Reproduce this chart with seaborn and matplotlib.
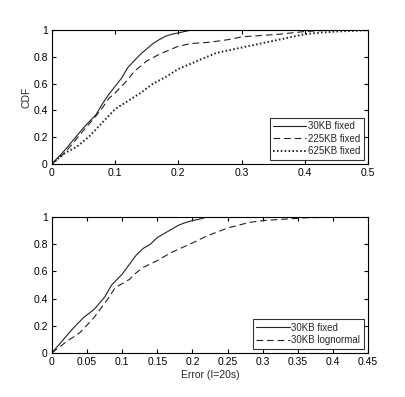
import pandas as pd
import matplotlib
matplotlib.use("Agg")
import matplotlib.pyplot as plt
import seaborn as sns

# top panel: CDF of error for fixed transfer sizes
top_x_30 = [0, 0.02, 0.05, 0.07, 0.08, 0.09, 0.10, 0.11, 0.12, 0.13, 0.14, 0.15,
            0.16, 0.17, 0.18, 0.19, 0.20, 0.21, 0.22, 0.50]
top_y_30 = [0, 0.10, 0.27, 0.37, 0.45, 0.52, 0.58, 0.64, 0.72, 0.77, 0.82, 0.86,
            0.90, 0.93, 0.955, 0.97, 0.98, 0.99, 1.0, 1.0]
top_x_225 = [0, 0.02, 0.05, 0.07, 0.08, 0.09, 0.10, 0.11, 0.12, 0.13, 0.14, 0.15,
             0.17, 0.19, 0.20, 0.22, 0.25, 0.28, 0.30, 0.33, 0.36, 0.38, 0.40,
             0.42, 0.44, 0.50]
top_y_225 = [0, 0.08, 0.25, 0.36, 0.42, 0.49, 0.53, 0.58, 0.63, 0.69, 0.73, 0.77,
             0.82, 0.86, 0.88, 0.90, 0.91, 0.93, 0.95, 0.96, 0.97, 0.98, 0.99,
             0.995, 1.0, 1.0]
top_x_625 = [0, 0.02, 0.04, 0.06, 0.08, 0.10, 0.12, 0.14, 0.16, 0.18, 0.20, 0.22,
             0.24, 0.26, 0.28, 0.30, 0.32, 0.34, 0.36, 0.38, 0.40, 0.42, 0.45, 0.50]
top_y_625 = [0, 0.08, 0.13, 0.21, 0.31, 0.41, 0.47, 0.53, 0.60, 0.65, 0.71, 0.75,
             0.79, 0.83, 0.85, 0.87, 0.89, 0.91, 0.93, 0.95, 0.97, 0.98, 0.99, 1.0]

# bottom panel: fixed vs lognormal sizes
bot_x_fixed = [0, 0.02, 0.03, 0.045, 0.06, 0.075, 0.085, 0.10, 0.11, 0.12, 0.13,
               0.14, 0.15, 0.16, 0.17, 0.18, 0.19, 0.20, 0.21, 0.22, 0.45]
bot_y_fixed = [0, 0.12, 0.18, 0.26, 0.32, 0.41, 0.50, 0.58, 0.65, 0.72, 0.77,
               0.80, 0.85, 0.88, 0.91, 0.94, 0.96, 0.975, 0.985, 1.0, 1.0]
bot_x_logn = [0, 0.02, 0.04, 0.06, 0.08, 0.09, 0.10, 0.11, 0.12, 0.13, 0.15,
              0.17, 0.20, 0.22, 0.25, 0.28, 0.30, 0.33, 0.36, 0.40, 0.45]
bot_y_logn = [0, 0.08, 0.15, 0.26, 0.40, 0.48, 0.51, 0.54, 0.59, 0.63, 0.68,
              0.74, 0.81, 0.86, 0.92, 0.96, 0.975, 0.985, 0.995, 1.0, 1.0]

sns.set_style("ticks")
plt.rcParams['font.family'] = ['Liberation Sans', 'DejaVu Sans']
plt.rcParams['font.size'] = 7.5
plt.rcParams['xtick.direction'] = 'in'
plt.rcParams['ytick.direction'] = 'in'
plt.rcParams['xtick.top'] = True
plt.rcParams['ytick.right'] = True
plt.rcParams['xtick.major.size'] = 3
plt.rcParams['ytick.major.size'] = 3
plt.rcParams['axes.linewidth'] = 0.8

LINE = '#222222'

fig = plt.figure(figsize=(4.05, 3.97), dpi=100)
ax1 = fig.add_axes([0.128, 0.587, 0.781, 0.337])
ax2 = fig.add_axes([0.128, 0.111, 0.781, 0.342])

styles = [
    ("30KB fixed", top_x_30, top_y_30, '-', 0.8),
    ("225KB fixed", top_x_225, top_y_225, (0, (6, 3.5)), 0.8),
    ("625KB fixed", top_x_625, top_y_625, (0, (0.8, 1.2)), 1.4),
]
for label, xs, ys, ls, lw in styles:
    df = pd.DataFrame({"x": xs, "y": ys})
    sns.lineplot(data=df, x="x", y="y", ax=ax1, color=LINE, linestyle=ls,
                 linewidth=lw, label=label, sort=False)

for label, xs, ys, ls in [("30KB fixed", bot_x_fixed, bot_y_fixed, '-'),
                          ("30KB lognormal", bot_x_logn, bot_y_logn, (0, (6, 3.5)))]:
    df = pd.DataFrame({"x": xs, "y": ys})
    sns.lineplot(data=df, x="x", y="y", ax=ax2, color=LINE, linestyle=ls,
                 linewidth=0.8, label=label, sort=False)

ax1.set_xlim(0, 0.5)
ax1.set_ylim(0, 1)
ax1.set_xticks([0, 0.1, 0.2, 0.3, 0.4, 0.5])
ax1.set_xticklabels(['0', '0.1', '0.2', '0.3', '0.4', '0.5'])
ax1.set_yticks([0, 0.2, 0.4, 0.6, 0.8, 1])
ax1.set_yticklabels(['0', '0.2', '0.4', '0.6', '0.8', '1'])
ax1.set_xlabel('')
ax1.set_ylabel('CDF', labelpad=1)

ax2.set_xlim(0, 0.45)
ax2.set_ylim(0, 1)
ax2.set_xticks([0, 0.05, 0.1, 0.15, 0.2, 0.25, 0.3, 0.35, 0.4, 0.45])
ax2.set_xticklabels(['0', '0.05', '0.1', '0.15', '0.2', '0.25', '0.3', '0.35', '0.4', '0.45'])
ax2.set_yticks([0, 0.2, 0.4, 0.6, 0.8, 1])
ax2.set_yticklabels(['0', '0.2', '0.4', '0.6', '0.8', '1'])
ax2.set_xlabel('Error (I=20s)', labelpad=2)
ax2.set_ylabel('')

for ax in (ax1, ax2):
    for s in ax.spines.values():
        s.set_visible(True)
        s.set_color('black')
    ax.tick_params(colors='black', labelsize=7.5, pad=3)
    leg = ax.legend(loc='lower right', frameon=True, fancybox=False, fontsize=7,
                    handlelength=3.4, borderpad=0.35, labelspacing=0.25,
                    handletextpad=0.2, borderaxespad=0.45)
    leg.get_frame().set_edgecolor('black')
    leg.get_frame().set_linewidth(0.8)

fig.savefig("out.png", dpi=100)
